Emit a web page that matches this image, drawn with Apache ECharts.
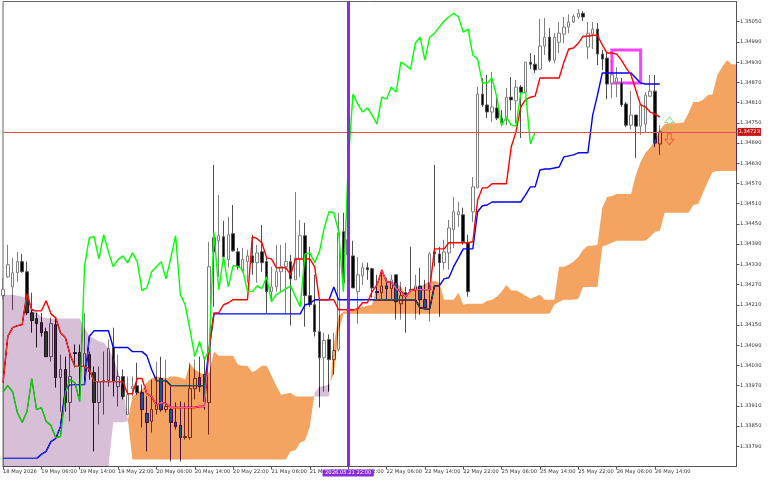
<!DOCTYPE html>
<html>
<head>
<meta charset="utf-8">
<style>html,body{margin:0;background:#fff}#main{width:768px;height:480px}</style>
<script src="https://cdn.jsdelivr.net/npm/echarts@6/dist/echarts.min.js"></script>
</head>
<body>
<div id="main"></div>
<script>
var opens = [
1.34237,1.34293,1.34263,1.34305,1.34338,1.34308,1.34186,1.34169,1.34157,1.34130,
1.34056,1.34151,1.33994,1.34018,1.33920,1.34068,1.34068,1.34027,1.34062,1.34009,
1.33920,1.33982,1.33985,1.34083,1.33967,1.33997,1.33884,1.33961,1.33970,1.33949,
1.33887,1.33864,1.33899,1.33991,1.33899,1.33899,1.33861,1.33852,1.33816,1.33816,
1.33961,1.33994,1.34003,1.33920,1.34409,1.34400,1.34412,1.34344,1.34421,1.34367,
1.34311,1.34338,1.34355,1.34335,1.34367,1.34338,1.34249,1.34263,1.34308,1.34323,
1.34338,1.34284,1.34346,1.34415,1.34237,1.34210,1.34130,1.34053,1.34107,1.34047,
1.34077,1.34427,1.34358,1.34355,1.34249,1.34296,1.34320,1.34317,1.34249,1.34246,
1.34266,1.34258,1.34299,1.34213,1.34246,1.34255,1.34255,1.34266,1.34225,1.34255,
1.34367,1.34361,1.34335,1.34364,1.34433,1.34477,1.34477,1.34394,1.34486,1.34557,
1.34835,1.34803,1.34782,1.34794,1.34764,1.34767,1.34826,1.34815,1.34856,1.34841,
1.34930,1.34924,1.34909,1.34978,1.35004,1.34936,1.34989,1.35013,1.35034,1.35049,
1.35064,1.35075,1.34975,1.35013,1.35028,1.34954,1.34942,1.34868,1.34871,1.34868,
1.34806,1.34743,1.34773,1.34740,1.34746,1.34829,1.34844,1.34687];
var closes = [
1.34255,1.34329,1.34305,1.34338,1.34308,1.34186,1.34163,1.34154,1.34127,1.34056,
1.34154,1.33994,1.34018,1.33920,1.33997,1.34065,1.34027,1.34065,1.34012,1.33920,
1.33982,1.33985,1.34080,1.33982,1.33997,1.33938,1.33943,1.33967,1.33949,1.33899,
1.33861,1.33899,1.33914,1.33899,1.33908,1.33861,1.33849,1.33816,1.33819,1.33961,
1.33991,1.33967,1.33923,1.34323,1.34367,1.34415,1.34352,1.34418,1.34370,1.34323,
1.34344,1.34355,1.34335,1.34364,1.34335,1.34249,1.34263,1.34308,1.34323,1.34338,
1.34287,1.34349,1.34415,1.34237,1.34210,1.34130,1.34053,1.34104,1.34047,1.34074,
1.34424,1.34275,1.34403,1.34260,1.34299,1.34320,1.34314,1.34260,1.34246,1.34266,
1.34258,1.34284,1.34219,1.34237,1.34240,1.34252,1.34266,1.34225,1.34201,1.34361,
1.34361,1.34335,1.34367,1.34438,1.34486,1.34486,1.34397,1.34249,1.34560,1.34835,
1.34803,1.34782,1.34797,1.34764,1.34749,1.34826,1.34818,1.34856,1.34841,1.34930,
1.34924,1.34907,1.34978,1.35004,1.34936,1.35004,1.35016,1.35034,1.35049,1.35066,
1.35075,1.35064,1.35016,1.35028,1.34954,1.34939,1.34865,1.34892,1.34883,1.34803,
1.34743,1.34773,1.34740,1.34803,1.34832,1.34844,1.34690,1.34723];
var lows = [
1.34225,1.34290,1.34195,1.34278,1.34305,1.34180,1.34127,1.34083,1.34116,1.34056,
1.34041,1.33964,1.33893,1.33893,1.33864,1.34024,1.33929,1.33973,1.33988,1.33775,
1.33855,1.33884,1.33967,1.33938,1.33908,1.33929,1.33884,1.33938,1.33943,1.33846,
1.33775,1.33831,1.33884,1.33893,1.33890,1.33745,1.33840,1.33745,1.33810,1.33810,
1.33929,1.33952,1.33899,1.33825,1.34204,1.34293,1.34344,1.34320,1.34367,1.34314,
1.34305,1.34275,1.34299,1.34275,1.34308,1.34186,1.34219,1.34249,1.34249,1.34186,
1.34148,1.34284,1.34293,1.34145,1.34204,1.34116,1.33905,1.33952,1.33952,1.34003,
1.34071,1.34249,1.34344,1.34260,1.34154,1.34269,1.34284,1.34231,1.34225,1.34225,
1.34225,1.34225,1.34166,1.34166,1.34127,1.34249,1.34166,1.34180,1.34201,1.34160,
1.34323,1.34174,1.34314,1.34314,1.34379,1.34441,1.34388,1.34234,1.34456,1.34557,
1.34797,1.34764,1.34752,1.34758,1.34740,1.34743,1.34788,1.34749,1.34705,1.34838,
1.34909,1.34898,1.34909,1.34951,1.34930,1.34927,1.34957,1.34986,1.35016,1.35046,
1.35058,1.35052,1.34939,1.34969,1.34921,1.34907,1.34820,1.34823,1.34826,1.34797,
1.34737,1.34731,1.34646,1.34714,1.34720,1.34826,1.34678,1.34655];
var highs = [
1.34290,1.34388,1.34349,1.34367,1.34361,1.34338,1.34246,1.34186,1.34186,1.34142,
1.34172,1.34169,1.34062,1.34056,1.34071,1.34092,1.34092,1.34186,1.34071,1.34027,
1.34027,1.34071,1.34107,1.34142,1.34062,1.34018,1.33997,1.33997,1.34038,1.33973,
1.33938,1.33988,1.34041,1.34056,1.34047,1.33967,1.33920,1.33923,1.33920,1.34038,
1.34047,1.34056,1.34056,1.34397,1.34625,1.34536,1.34459,1.34471,1.34506,1.34379,
1.34379,1.34373,1.34418,1.34388,1.34447,1.34349,1.34323,1.34388,1.34388,1.34394,
1.34358,1.34545,1.34462,1.34453,1.34382,1.34299,1.34225,1.34127,1.34122,1.34127,
1.34483,1.34483,1.34447,1.34400,1.34352,1.34335,1.34335,1.34320,1.34299,1.34308,
1.34290,1.34299,1.34299,1.34278,1.34263,1.34382,1.34299,1.34320,1.34284,1.34367,
1.34625,1.34382,1.34403,1.34462,1.34530,1.34515,1.34498,1.34418,1.34589,1.34856,
1.34883,1.34892,1.34901,1.34832,1.34788,1.34853,1.34886,1.34877,1.34862,1.34930,
1.34957,1.34951,1.35058,1.35061,1.35031,1.35016,1.35049,1.35064,1.35072,1.35072,
1.35087,1.35081,1.35049,1.35049,1.35046,1.34966,1.34960,1.34936,1.34915,1.34883,
1.34812,1.34844,1.34773,1.34803,1.34841,1.34892,1.34892,1.34743];

var tenkan = [
1.33979,1.34116,1.34142,1.34148,1.34151,1.34243,1.34195,1.34192,1.34192,1.34222,
1.34183,1.34171,1.34127,1.34113,1.34062,1.34027,1.34027,1.34027,1.34018,1.33982,
1.33982,1.33982,1.33982,1.33982,1.33982,1.33982,1.33946,1.33946,1.33991,1.33991,
1.33946,1.33938,1.33911,1.33920,1.33917,1.33905,1.33905,1.33905,1.33905,1.33905,
1.33905,1.33908,1.33908,1.34083,1.34186,1.34186,1.34210,1.34216,1.34225,1.34225,
1.34225,1.34225,1.34412,1.34406,1.34394,1.34349,1.34346,1.34320,1.34320,1.34320,
1.34299,1.34346,1.34346,1.34346,1.34346,1.34323,1.34225,1.34225,1.34225,1.34225,
1.34195,1.34195,1.34195,1.34195,1.34198,1.34216,1.34216,1.34249,1.34269,1.34314,
1.34278,1.34278,1.34258,1.34249,1.34234,1.34252,1.34255,1.34255,1.34255,1.34255,
1.34376,1.34376,1.34376,1.34394,1.34394,1.34394,1.34394,1.34394,1.34397,1.34521,
1.34557,1.34557,1.34569,1.34569,1.34569,1.34569,1.34678,1.34723,1.34797,1.34818,
1.34826,1.34829,1.34883,1.34883,1.34883,1.34883,1.34883,1.34930,1.34969,1.34972,
1.34986,1.35007,1.35007,1.35010,1.35010,1.34981,1.34957,1.34957,1.34954,1.34936,
1.34912,1.34892,1.34847,1.34803,1.34797,1.34782,1.34776,1.34767];
var kijun = [
1.33754,1.33754,1.33754,1.33754,1.33754,1.33754,1.33754,1.33754,1.33766,1.33775,
1.33804,1.33813,1.33849,1.33958,1.33973,1.33973,1.33973,1.33973,1.34116,1.34133,
1.34133,1.34133,1.34133,1.34083,1.34083,1.34083,1.34083,1.34071,1.34071,1.34071,
1.34059,1.34018,1.33985,1.33985,1.33985,1.33970,1.33970,1.33970,1.33970,1.33970,
1.33970,1.33970,1.33970,1.34077,1.34183,1.34183,1.34183,1.34183,1.34183,1.34183,
1.34183,1.34183,1.34183,1.34183,1.34183,1.34183,1.34183,1.34183,1.34183,1.34183,
1.34183,1.34183,1.34183,1.34210,1.34213,1.34225,1.34225,1.34225,1.34225,1.34263,
1.34225,1.34225,1.34225,1.34225,1.34225,1.34225,1.34225,1.34225,1.34225,1.34225,
1.34225,1.34225,1.34225,1.34225,1.34225,1.34225,1.34225,1.34201,1.34198,1.34198,
1.34266,1.34266,1.34287,1.34290,1.34323,1.34349,1.34376,1.34376,1.34376,1.34486,
1.34504,1.34506,1.34515,1.34515,1.34515,1.34515,1.34515,1.34515,1.34515,1.34536,
1.34560,1.34560,1.34610,1.34613,1.34613,1.34616,1.34619,1.34649,1.34652,1.34655,
1.34661,1.34661,1.34661,1.34773,1.34832,1.34898,1.34898,1.34898,1.34898,1.34898,
1.34898,1.34898,1.34883,1.34868,1.34865,1.34865,1.34865,1.34865];
var chikou = [
1.33952,1.33970,1.33952,1.33890,1.33861,1.33893,1.33991,1.33899,1.33905,1.33864,
1.33852,1.33816,1.33819,1.33949,1.33988,1.33979,1.33923,1.34323,1.34409,1.34412,
1.34346,1.34418,1.34367,1.34323,1.34344,1.34355,1.34335,1.34364,1.34338,1.34252,
1.34260,1.34308,1.34323,1.34338,1.34287,1.34349,1.34415,1.34240,1.34210,1.34136,
1.34056,1.34101,1.34047,1.34077,1.34424,1.34255,1.34352,1.34263,1.34326,1.34323,
1.34314,1.34249,1.34249,1.34266,1.34258,1.34293,1.34219,1.34240,1.34249,1.34258,
1.34266,1.34234,1.34204,1.34361,1.34364,1.34335,1.34367,1.34438,1.34486,1.34483,
1.34427,1.34249,1.34631,1.34835,1.34806,1.34782,1.34794,1.34773,1.34746,1.34826,
1.34820,1.34856,1.34841,1.34930,1.34921,1.34909,1.34986,1.35004,1.34936,1.35004,
1.35016,1.35034,1.35052,1.35064,1.35075,1.35064,1.35019,1.35028,1.34951,1.34939,
1.34868,1.34868,1.34883,1.34826,1.34743,1.34767,1.34743,1.34740,1.34838,1.34841,
1.34687,1.34723];
var spanA = [
1.33730,1.33730,1.33730,1.33730,1.33730,1.33730,1.33730,1.33730,1.33730,1.33730,
1.33730,1.33730,1.33730,1.33730,1.33730,1.33730,1.33730,1.33730,1.33730,1.33730,
1.33730,1.33730,1.33730,1.33861,1.33861,1.33861,1.33864,1.33938,1.33949,1.33958,
1.33979,1.33991,1.33997,1.33994,1.33991,1.33997,1.33997,1.33994,1.33988,1.34035,
1.34018,1.34009,1.34003,1.34009,1.34071,1.34059,1.34059,1.34059,1.34059,1.34032,
1.34029,1.34029,1.34009,1.34018,1.34029,1.34029,1.34000,1.33970,1.33943,1.33946,
1.33949,1.33938,1.33938,1.33938,1.33938,1.33938,1.33938,1.33938,1.33938,1.34092,
1.34177,1.34189,1.34192,1.34195,1.34198,1.34204,1.34207,1.34210,1.34269,1.34314,
1.34284,1.34278,1.34275,1.34263,1.34240,1.34255,1.34263,1.34263,1.34272,1.34278,
1.34281,1.34275,1.34225,1.34225,1.34225,1.34246,1.34210,1.34213,1.34213,1.34213,
1.34213,1.34222,1.34225,1.34234,1.34249,1.34269,1.34252,1.34252,1.34246,1.34237,
1.34228,1.34234,1.34240,1.34225,1.34225,1.34225,1.34323,1.34323,1.34329,1.34338,
1.34352,1.34373,1.34385,1.34385,1.34388,1.34498,1.34530,1.34533,1.34539,1.34539,
1.34539,1.34539,1.34595,1.34634,1.34661,1.34676,1.34699,1.34729,1.34746,1.34749,
1.34749,1.34749,1.34752,1.34779,1.34812,1.34812,1.34818,1.34832,1.34835,1.34892,
1.34915,1.34936,1.34924,1.34924];
var spanB = [
1.34240,1.34240,1.34240,1.34237,1.34234,1.34231,1.34201,1.34189,1.34174,1.34171,
1.34169,1.34169,1.34169,1.34169,1.34169,1.34169,1.34169,1.34142,1.34118,1.34110,
1.34101,1.34098,1.34080,1.34053,1.34012,1.33958,1.33875,1.33751,1.33751,1.33751,
1.33751,1.33751,1.33751,1.33751,1.33751,1.33751,1.33751,1.33751,1.33751,1.33751,
1.33751,1.33751,1.33751,1.33751,1.33751,1.33751,1.33751,1.33751,1.33751,1.33751,
1.33751,1.33751,1.33751,1.33751,1.33751,1.33751,1.33751,1.33751,1.33751,1.33751,
1.33775,1.33778,1.33801,1.33807,1.33849,1.33949,1.33967,1.33970,1.33973,1.34003,
1.34130,1.34183,1.34183,1.34183,1.34183,1.34183,1.34183,1.34183,1.34183,1.34183,
1.34183,1.34183,1.34183,1.34183,1.34183,1.34183,1.34183,1.34183,1.34183,1.34183,
1.34183,1.34183,1.34183,1.34183,1.34183,1.34183,1.34183,1.34183,1.34183,1.34183,
1.34183,1.34183,1.34183,1.34183,1.34183,1.34183,1.34183,1.34183,1.34183,1.34183,
1.34183,1.34183,1.34183,1.34183,1.34183,1.34210,1.34219,1.34225,1.34225,1.34225,
1.34228,1.34263,1.34263,1.34263,1.34263,1.34382,1.34388,1.34394,1.34400,1.34400,
1.34400,1.34400,1.34400,1.34400,1.34400,1.34412,1.34427,1.34430,1.34483,1.34483,
1.34483,1.34483,1.34483,1.34483,1.34506,1.34509,1.34542,1.34575,1.34604,1.34607,
1.34607,1.34607,1.34607,1.34607];

var yTicks = [1.35050,1.34990,1.34930,1.34870,1.34810,1.34750,1.34690,1.34630,1.34570,1.34510,1.34450,
  1.34390,1.34330,1.34270,1.34210,1.34150,1.34090,1.34030,1.33970,1.33910,1.33850,1.33790];
var xTicks = [0,8,16,24,32,40,48,56,64,72,80,88,96,104,112,120,128,136];
var tickLabels = ['18 May 2026','19 May 06:00','19 May 14:00','19 May 22:00','20 May 06:00','20 May 14:00',
  '20 May 22:00','21 May 06:00','21 May 14:00','21 May 22:00','22 May 06:00','22 May 14:00','22 May 22:00',
  '25 May 06:00','25 May 14:00','25 May 22:00','26 May 06:00','26 May 14:00'];
var lastPrice = 1.34723;
var selectedBar = 72;
var selectedTime = '2026.05.21 22:00';
var boxBars = [127, 133];
var boxPrices = [1.34868, 1.34966];
var arrowBar = 139;
var arrowUpPrice = 1.34751;
var arrowDownPrice = 1.34701;

var FONT = 'DejaVu Sans';
var candles = opens.map(function (o, i) { return [o, closes[i], lows[i], highs[i]]; });
var bars = spanA.map(function (v, i) { return String(i); });

// split the cloud where the spans cross
var runs = [];
var runStart = 0;
for (var i = 1; i < spanA.length; i++) {
  if ((spanA[i] > spanB[i]) !== (spanA[i - 1] > spanB[i - 1])) {
    runs.push([runStart, i - 1]);
    runStart = i;
  }
}
runs.push([runStart, spanA.length - 1]);

function crossing(api, i) {
  var a0 = api.coord([i, spanA[i]]), a1 = api.coord([i + 1, spanA[i + 1]]);
  var b0 = api.coord([i, spanB[i]]), b1 = api.coord([i + 1, spanB[i + 1]]);
  var t = (b0[1] - a0[1]) / ((a1[1] - a0[1]) - (b1[1] - b0[1]));
  return [a0[0] + (a1[0] - a0[0]) * t, a0[1] + (a1[1] - a0[1]) * t];
}

// MT5 paints the cloud xor-style over what is under it, difference gives the same colours
function renderCloud(params, api) {
  var s = api.value(0), e = api.value(1);
  var pts = [];
  if (s > 0) pts.push(crossing(api, s - 1));
  for (var i = s; i <= e; i++) pts.push(api.coord([i, spanA[i]]));
  if (e < spanA.length - 1) pts.push(crossing(api, e));
  for (var j = e; j >= s; j--) pts.push(api.coord([j, spanB[j]]));
  return {
    type: 'polygon',
    shape: { points: pts },
    style: { fill: spanA[s] > spanB[s] ? '#0b5b9f' : '#274027' }
  };
}

var myChart = echarts.init(document.getElementById('main'));
var option = {
  animation: false,
  backgroundColor: '#ffffff',
  grid: { left: 1.5, right: 31.5, top: 1.5, bottom: 13.5, show: true, borderColor: '#666', borderWidth: 1 },
  xAxis: {
    type: 'category',
    data: bars,
    boundaryGap: false,
    axisLine: { lineStyle: { color: '#555' } },
    axisTick: { length: 3, customValues: xTicks, lineStyle: { color: '#555' } },
    axisLabel: {
      customValues: xTicks, align: 'left', margin: 3, color: '#333', fontFamily: FONT, fontSize: 5.2, hideOverlap: false,
      formatter: function (v) { return tickLabels[+v / 8] || ''; }
    }
  },
  yAxis: {
    type: 'value',
    position: 'right',
    min: 1.33730,
    max: 1.35110,
    splitLine: { show: false },
    axisLine: { show: true, lineStyle: { color: '#555' } },
    axisTick: { show: true, length: 3, customValues: yTicks, lineStyle: { color: '#555' } },
    axisLabel: {
      customValues: yTicks, margin: 3.5, color: '#333', fontFamily: FONT, fontSize: 5.2,
      formatter: function (v) { return v.toFixed(5); }
    }
  },
  series: [
    {
      type: 'line', data: [], z: 1, silent: true,
      markLine: {
        silent: true, symbol: 'none', precision: 5,
        lineStyle: { color: '#e65050', width: 1, type: 'solid' },
        label: {
          position: 'end', distance: 1, formatter: lastPrice.toFixed(5), color: '#fff',
          backgroundColor: '#c81414', padding: [1.5, 1], fontFamily: FONT, fontSize: 5.2
        },
        data: [{ yAxis: lastPrice }]
      }
    },
    {
      type: 'candlestick', data: candles, z: 2, barWidth: 3,
      itemStyle: { color: '#ffffff', color0: '#000000', borderColor: '#808080', borderColor0: '#505050', borderWidth: 1 }
    },
    { type: 'line', data: kijun, z: 3, showSymbol: false, lineStyle: { color: '#0000ff', width: 1.4 } },
    { type: 'line', data: tenkan, z: 3, showSymbol: false, lineStyle: { color: '#ff0000', width: 1.4 } },
    { type: 'line', data: chikou, z: 3, showSymbol: false, lineStyle: { color: '#00ff00', width: 1.4 } },
    {
      type: 'custom', data: runs, z: 4, clip: true, silent: true, blendMode: 'difference',
      encode: { x: 0, y: 1 },
      renderItem: renderCloud
    },
    {
      type: 'line', data: [], z: 5, silent: true,
      markLine: {
        silent: true, symbol: 'none',
        lineStyle: { color: '#8a2be2', width: 3, type: 'solid' },
        label: {
          position: 'start', distance: 3, formatter: selectedTime, color: '#fff',
          backgroundColor: '#8a2be2', padding: [1, 2.5], fontFamily: FONT, fontSize: 5.2
        },
        data: [{ xAxis: String(selectedBar) }]
      },
      markArea: {
        silent: true,
        itemStyle: { color: 'rgba(0,0,0,0)', borderColor: '#ff40ff', borderWidth: 3 },
        data: [[{ xAxis: String(boxBars[0]), yAxis: boxPrices[1] }, { xAxis: String(boxBars[1]), yAxis: boxPrices[0] }]]
      }
    },
    {
      type: 'scatter', z: 6, silent: true, symbol: 'path://M5 0L10 6L7 6L7 12L3 12L3 6L0 6Z', symbolSize: [9, 11],
      itemStyle: { color: 'rgba(0,0,0,0)', borderColor: '#66e066', borderWidth: 1 },
      data: [[String(arrowBar), arrowUpPrice]]
    },
    {
      type: 'scatter', z: 6, silent: true, symbol: 'path://M3 0L7 0L7 6L10 6L5 12L0 6L3 6Z', symbolSize: [9, 11],
      itemStyle: { color: 'rgba(0,0,0,0)', borderColor: '#f04a30', borderWidth: 1 },
      data: [[String(arrowBar), arrowDownPrice]]
    }
  ]
};
myChart.setOption(option);
</script>
</body>
</html>
